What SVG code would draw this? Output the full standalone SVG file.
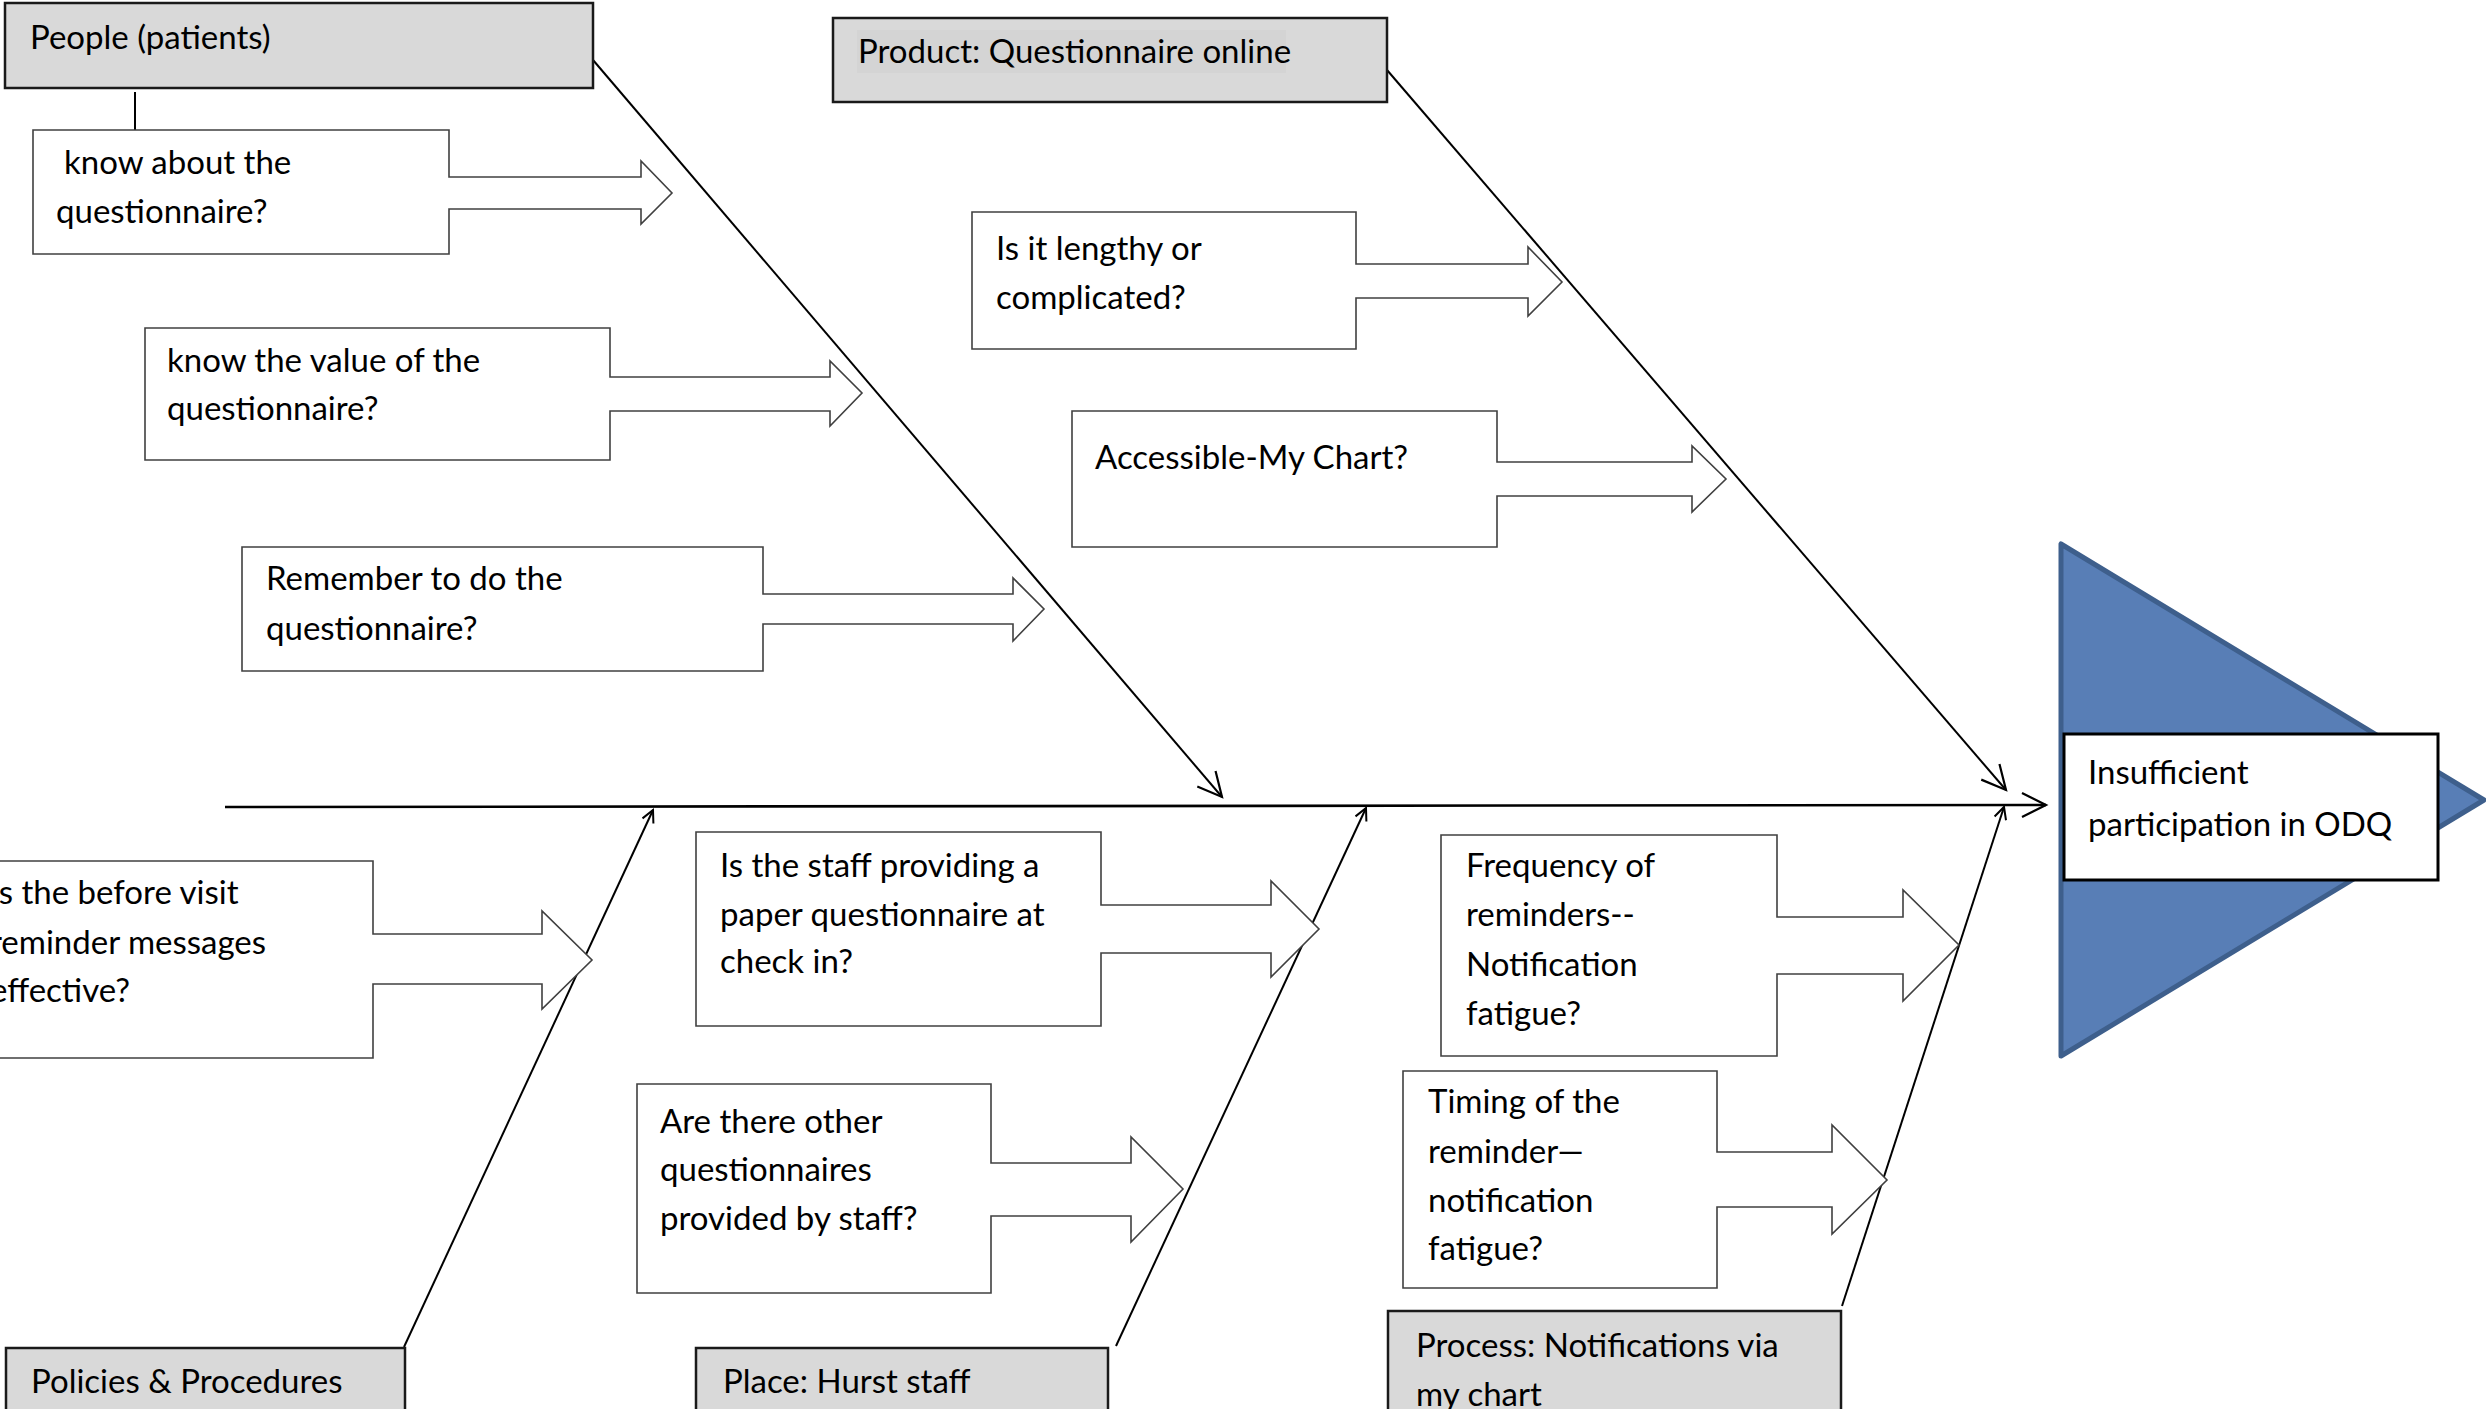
<svg xmlns="http://www.w3.org/2000/svg" width="2486" height="1409" viewBox="0 0 2486 1409">
  <style>
    text { font-family: Lato, "Liberation Sans", sans-serif; font-size: 33px; fill: #000; }
    .head { fill: #d9d9d9; stroke: #1a1a1a; stroke-width: 2.5; }
    .callout { fill: #fff; stroke: #404040; stroke-width: 1.6; stroke-linejoin: miter; }
    .bone { fill: none; stroke: #000; stroke-width: 2; }
    .spine { fill: none; stroke: #000; stroke-width: 2.6; }
  </style>
  <defs>
    <marker id="vbig" markerUnits="userSpaceOnUse" markerWidth="30" markerHeight="30" viewBox="0 0 30 30" refX="26" refY="15" orient="auto">
      <path d="M2,3 L26,15 L2,27" fill="none" stroke="#000" stroke-width="2.2"/>
    </marker>
    <marker id="vsmall" markerUnits="userSpaceOnUse" markerWidth="16" markerHeight="16" viewBox="0 0 16 16" refX="14" refY="8" orient="auto">
      <path d="M2,2 L14,8 L2,14" fill="none" stroke="#000" stroke-width="2"/>
    </marker>
  </defs>
  <rect width="2486" height="1409" fill="#fff"/>

  <!-- effect: triangle head with the problem statement -->
  <g id="effect">
    <polygon points="2061,544 2061,1056 2484,800" fill="#587eb6" stroke="#3e5f8c" stroke-width="5" stroke-linejoin="round"/>
    <rect x="2064" y="734" width="374" height="146" fill="#fff" stroke="#000" stroke-width="3"/>
    <text x="2088" y="784">Insufficient</text>
    <text x="2088" y="836">participation in ODQ</text>
  </g>

  <!-- spine and category bones -->
  <g id="connectors">
    <line class="spine" x1="225" y1="807" x2="2046" y2="805" marker-end="url(#vbig)"/>
    <line class="bone" x1="593" y1="60" x2="1222" y2="797" marker-end="url(#vbig)"/>
    <line class="bone" x1="1387" y1="70" x2="2006" y2="790" marker-end="url(#vbig)"/>
    <line class="bone" x1="404" y1="1347" x2="653" y2="810" marker-end="url(#vsmall)"/>
    <line class="bone" x1="1116" y1="1346" x2="1366" y2="808" marker-end="url(#vsmall)"/>
    <line class="bone" x1="1842" y1="1306" x2="2004" y2="807" marker-end="url(#vsmall)"/>
    <line class="bone" x1="135" y1="92" x2="135" y2="131" stroke-width="2"/>
  </g>

  <!-- category headers -->
  <g id="people">
    <rect class="head" x="5" y="3" width="588" height="85"/>
    <text x="30" y="49">People (patients)</text>
  </g>
  <g id="product">
    <rect class="head" x="833" y="18" width="554" height="84"/>
    <rect x="857" y="30" width="429" height="43" fill="#d4d4d4"/>
    <text x="858" y="63">Product: Questionnaire online</text>
  </g>
  <g id="policies">
    <rect class="head" x="6" y="1348" width="399" height="70"/>
    <text x="31" y="1393">Policies &amp; Procedures</text>
  </g>
  <g id="place">
    <rect class="head" x="696" y="1348" width="412" height="70"/>
    <text x="723" y="1393">Place: Hurst staff</text>
  </g>
  <g id="process">
    <rect class="head" x="1388" y="1311" width="453" height="110"/>
    <text x="1416" y="1357">Process: Notifications via</text>
    <text x="1416" y="1406">my chart</text>
  </g>

  <!-- cause callouts -->
  <g id="know-about">
    <path class="callout" d="M33,130 H449 V177 H641 V161 L672,193 L641,224 V209 H449 V254 H33 Z"/>
    <text x="64" y="174">know about the</text>
    <text x="56" y="223">questionnaire?</text>
  </g>
  <g id="know-value">
    <path class="callout" d="M145,328 H610 V377 H830 V361 L862,393 L830,426 V411 H610 V460 H145 Z"/>
    <text x="167" y="372">know the value of the</text>
    <text x="167" y="420">questionnaire?</text>
  </g>
  <g id="remember">
    <path class="callout" d="M242,547 H763 V594 H1013 V578 L1044,609 L1013,641 V624 H763 V671 H242 Z"/>
    <text x="266" y="590">Remember to do the</text>
    <text x="266" y="640">questionnaire?</text>
  </g>
  <g id="lengthy">
    <path class="callout" d="M972,212 H1356 V264 H1528 V247 L1562,282 L1528,316 V298 H1356 V349 H972 Z"/>
    <text x="996" y="260">Is it lengthy or</text>
    <text x="996" y="309">complicated?</text>
  </g>
  <g id="accessible">
    <path class="callout" d="M1072,411 H1497 V462 H1692 V446 L1726,479 L1692,512 V496 H1497 V547 H1072 Z"/>
    <text x="1095" y="469">Accessible-My Chart?</text>
  </g>
  <g id="before-visit">
    <path class="callout" d="M-5,861 H373 V934 H542 V911 L592,960 L542,1009 V984 H373 V1058 H-5 Z"/>
    <text x="-10" y="904">Is the before visit</text>
    <text x="-10" y="954">reminder messages</text>
    <text x="-10" y="1002">effective?</text>
  </g>
  <g id="staff-paper">
    <path class="callout" d="M696,832 H1101 V905 H1271 V881 L1319,929 L1271,977 V953 H1101 V1026 H696 Z"/>
    <text x="720" y="877">Is the staff providing a</text>
    <text x="720" y="926">paper questionnaire at</text>
    <text x="720" y="973">check in?</text>
  </g>
  <g id="other-questionnaires">
    <path class="callout" d="M637,1084 H991 V1163 H1131 V1137 L1183,1189 L1131,1242 V1216 H991 V1293 H637 Z"/>
    <text x="660" y="1133">Are there other</text>
    <text x="660" y="1181">questionnaires</text>
    <text x="660" y="1230">provided by staff?</text>
  </g>
  <g id="frequency">
    <path class="callout" d="M1441,835 H1777 V917 H1903 V890 L1959,945 L1903,1001 V974 H1777 V1056 H1441 Z"/>
    <text x="1466" y="877">Frequency of</text>
    <text x="1466" y="926">reminders--</text>
    <text x="1466" y="976">Notification</text>
    <text x="1466" y="1025">fatigue?</text>
  </g>
  <g id="timing">
    <path class="callout" d="M1403,1071 H1717 V1152 H1832 V1125 L1887,1180 L1832,1234 V1207 H1717 V1288 H1403 Z"/>
    <text x="1428" y="1113">Timing of the</text>
    <text x="1428" y="1163">reminder—</text>
    <text x="1428" y="1212">notification</text>
    <text x="1428" y="1260">fatigue?</text>
  </g>
</svg>
